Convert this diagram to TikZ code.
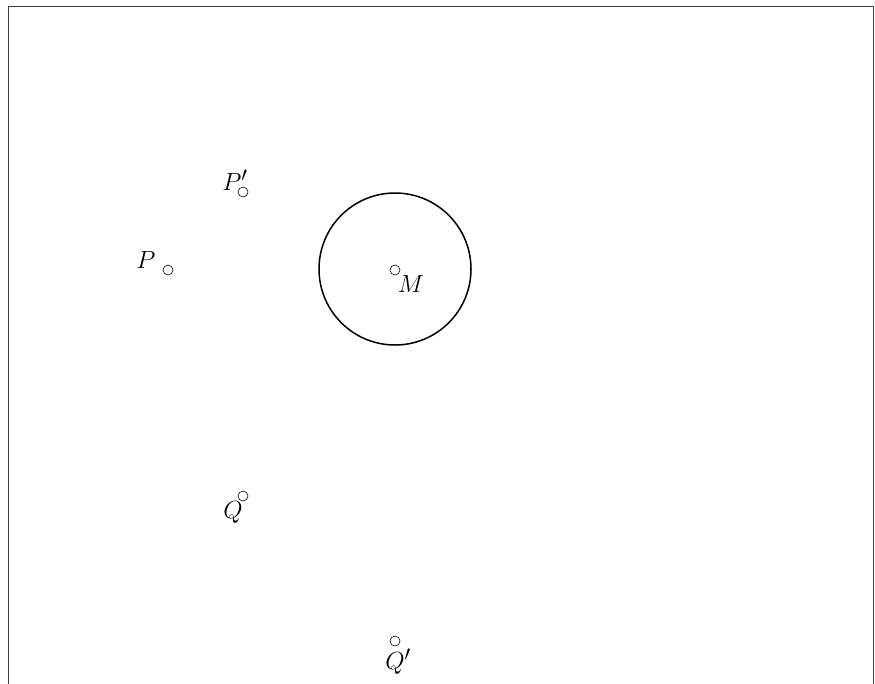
\documentclass[tikz,border=0pt]{standalone}
\usetikzlibrary{positioning}
\tikzset{
  pnt/.style={circle,draw,inner sep=0pt,minimum size=10pt,line width=0.6pt},
  lbl/.style={font=\Huge,inner sep=0pt}
}
\begin{document}
\begin{tikzpicture}[x=1pt,y=-1pt]
  \useasboundingbox (0,0) rectangle (875,683);
  \clip (0,0) rectangle (875,683);
  % frame
  \draw[line width=1.3pt,black!75] (8.5,700) -- (8.5,6.5) -- (873.5,6.5) -- (873.5,700);
  % circle around M
  \draw[line width=1.5pt] (395,269) circle[radius=76];
  % points
  \node[pnt] (m) at (395,270) {};
  \node[pnt] (p) at (168,270) {};
  \node[pnt] (pp) at (243,192) {};
  \node[pnt] (q) at (243,496) {};
  \node[pnt] (qq) at (395,641) {};
  % labels
  \node[lbl] (lm) at (411,284) {$M$};
  \node[lbl] (lp) at (146,260) {$P$};
  \node[lbl] (lpp) at (235,180) {$P'$};
  \node[lbl] (lq) at (233,512) {$Q$};
  \node[lbl] (lqq) at (398,662) {$Q'$};
\end{tikzpicture}
\end{document}
